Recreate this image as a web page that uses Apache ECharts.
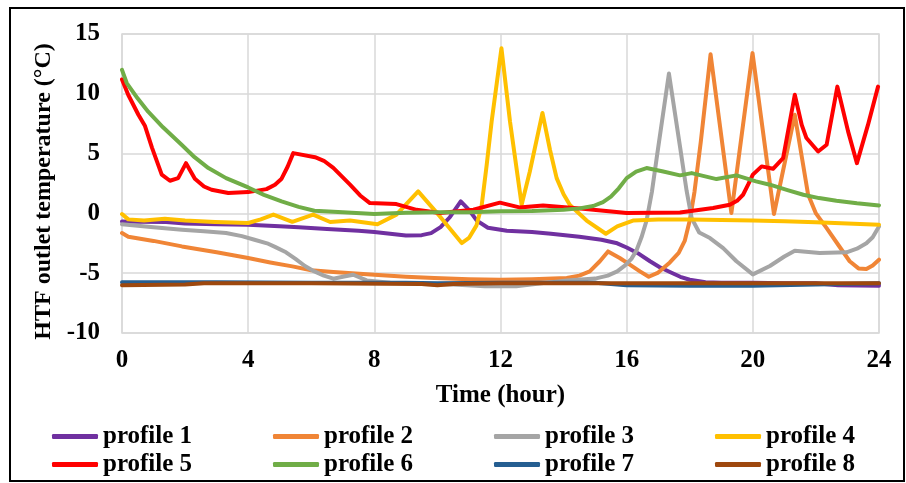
<!DOCTYPE html>
<html>
<head>
<meta charset="utf-8">
<script src="https://cdn.jsdelivr.net/npm/echarts@6/dist/echarts.min.js"></script>
<style>
  html, body { margin: 0; padding: 0; background: #fff; }
  #chart { width: 906px; height: 483px; }
</style>
</head>
<body>
<div id="chart"></div>
<script>
// Hourly HTF outlet temperature for eight load profiles: [hour, °C]
const profileNames = ['profile 1', 'profile 2', 'profile 3', 'profile 4',
                      'profile 5', 'profile 6', 'profile 7', 'profile 8'];
const profileColors = ['#7030A0', '#F08536', '#A5A5A5', '#FFC000',
                       '#FF0000', '#70AD47', '#255E91', '#9E480E'];

const xTicks = { min: 0, max: 24, step: 4 };
const yTicks = { min: -10, max: 15, step: 5 };

const profile1 = [[0,-0.67],[0.5,-0.7],[1.4,-0.72],[2,-0.85],[3,-0.9],[4,-0.95],[5,-1.08],[5.6,-1.15],
  [6.5,-1.3],[7.5,-1.45],[8,-1.55],[8.5,-1.7],[9,-1.85],[9.5,-1.82],[9.8,-1.65],[10.1,-1.15],[10.4,-0.3],
  [10.74,1.0],[11.0,0.3],[11.25,-0.6],[11.6,-1.2],[12.2,-1.45],[13,-1.55],[13.6,-1.7],[14.5,-1.95],
  [15.2,-2.2],[15.7,-2.5],[16,-2.85],[16.4,-3.4],[16.74,-4.0],[17.05,-4.5],[17.37,-4.9],[17.7,-5.3],
  [18,-5.55],[18.5,-5.75],[19,-5.8],[20,-5.8],[21,-5.85],[22,-5.85],[22.7,-6.0],[24,-6.05]];

const profile2 = [[0,-1.64],[0.2,-1.95],[1,-2.3],[1.9,-2.76],[3,-3.25],[4,-3.73],[4.7,-4.1],[5.4,-4.43],
  [6,-4.75],[6.7,-4.9],[8,-5.13],[9,-5.3],[9.9,-5.41],[11,-5.5],[12,-5.55],[13,-5.5],[14.1,-5.4],
  [14.5,-5.2],[14.83,-4.85],[15.15,-4.0],[15.41,-3.18],[15.78,-3.73],[16.1,-4.29],[16.42,-4.85],
  [16.7,-5.3],[17,-4.95],[17.37,-4.1],[17.65,-3.3],[17.84,-2.3],[18.0,-0.6],[18.15,1.8],[18.35,6.0],
  [18.66,13.3],[19.32,0.03],[19.99,13.4],[20.67,-0.05],[21.33,8.25],[21.75,1.6],[22.0,0.0],
  [22.34,-1.23],[22.7,-2.6],[23.07,-4.0],[23.35,-4.6],[23.6,-4.65],[23.8,-4.35],[24,-3.87]];

const profile3 = [[0,-0.9],[1,-1.15],[1.9,-1.36],[2.6,-1.5],[3.3,-1.64],[3.8,-1.9],[4.2,-2.2],[4.6,-2.5],
  [4.85,-2.8],[5.2,-3.25],[5.5,-3.8],[5.8,-4.4],[6.1,-4.85],[6.4,-5.2],[6.7,-5.46],[7.0,-5.3],
  [7.33,-5.13],[7.76,-5.6],[8.5,-5.8],[9.5,-5.9],[10.5,-5.95],[11.5,-6.1],[12.5,-6.1],[13.3,-5.85],
  [14.1,-5.6],[15.0,-5.45],[15.4,-5.2],[15.7,-4.85],[15.95,-4.35],[16.15,-3.8],[16.31,-3.1],
  [16.47,-2.0],[16.63,-0.6],[16.8,1.8],[16.95,4.6],[17.34,11.7],[17.69,5.6],[17.9,1.9],[18.06,-0.4],
  [18.3,-1.6],[18.64,-2.06],[19.06,-2.9],[19.48,-4.0],[20,-5.1],[20.54,-4.4],[21,-3.6],[21.33,-3.12],
  [22.12,-3.32],[22.97,-3.25],[23.3,-2.95],[23.6,-2.5],[23.8,-2.0],[24,-1.1]];

const profile4 = [[0,-0.05],[0.2,-0.5],[0.7,-0.6],[1.36,-0.45],[2,-0.6],[2.95,-0.72],[4,-0.8],[4.4,-0.5],
  [4.8,-0.1],[5.4,-0.7],[6.06,-0.1],[6.6,-0.72],[7.23,-0.6],[8.1,-0.9],[8.7,-0.1],[9.39,1.84],
  [10.08,-0.25],[10.77,-2.48],[11.0,-2.05],[11.24,-1.0],[11.4,0.6],[11.56,4.0],[11.72,7.7],[12.03,13.8],
  [12.3,7.7],[12.67,0.72],[12.93,3.5],[13.33,8.4],[13.57,5.3],[13.78,2.95],[14.0,1.6],[14.2,0.7],
  [14.73,-0.6],[15.34,-1.7],[15.7,-1.09],[16.2,-0.6],[17,-0.5],[18,-0.5],[19,-0.55],[20,-0.6],
  [21,-0.65],[22,-0.75],[23,-0.85],[24,-0.95]];

const profile5 = [[0,11.2],[0.2,9.9],[0.52,8.25],[0.73,7.3],[0.95,5.5],[1.26,3.24],[1.52,2.73],[1.78,2.95],
  [2.03,4.2],[2.31,2.9],[2.6,2.25],[2.84,1.98],[3.37,1.7],[4,1.78],[4.58,2.03],[4.85,2.4],[5.06,2.9],
  [5.25,3.9],[5.43,5.04],[6.12,4.7],[6.4,4.4],[6.7,3.8],[7.23,2.4],[7.55,1.5],[7.86,0.86],[8.7,0.78],
  [9.34,0.3],[10.08,0.03],[11.14,0.31],[11.98,0.9],[12.6,0.5],[13.35,0.67],[14.62,0.39],[16,0.03],
  [17.69,0.08],[18.74,0.45],[19.27,0.73],[19.5,1.05],[19.69,1.56],[19.85,2.4],[20,3.24],[20.28,3.93],
  [20.64,3.73],[20.96,4.63],[21.33,9.92],[21.55,7.4],[21.7,6.3],[22.07,5.18],[22.34,5.74],[22.68,10.6],
  [23.02,6.86],[23.3,4.2],[23.65,7.4],[23.97,10.6]];

const profile6 = [[0,12],[0.15,10.9],[0.5,9.6],[0.83,8.5],[1.3,7.2],[1.89,5.74],[2.3,4.7],[2.74,3.79],
  [3.3,2.95],[4,2.17],[4.5,1.55],[5.06,1.0],[5.6,0.55],[6.1,0.22],[7,0.1],[8,-0.05],[9,0.05],[10,0.1],
  [11,0.1],[12,0.17],[13,0.2],[14,0.3],[14.5,0.42],[14.94,0.62],[15.25,0.95],[15.5,1.4],[15.75,2.1],
  [16,2.95],[16.3,3.5],[16.63,3.79],[17.16,3.5],[17.69,3.18],[18.06,3.37],[18.85,2.87],[19.48,3.18],
  [20.1,2.68],[20.54,2.4],[21.1,1.95],[21.6,1.56],[22.1,1.28],[22.65,1.06],[23.3,0.85],[24,0.67]];

const profile7 = [[0,-5.75],[3,-5.75],[6,-5.8],[9,-5.8],[10,-5.85],[12,-5.8],[15,-5.8],[16,-6.0],
  [18,-6.05],[20,-6.05],[22,-5.95],[24,-5.85]];

const profile8 = [[0,-6.0],[2,-5.95],[2.6,-5.85],[6,-5.85],[9.5,-5.9],[10,-6.0],[10.5,-5.9],[12,-5.85],
  [18,-5.85],[24,-5.85]];

const profiles = [profile1, profile2, profile3, profile4, profile5, profile6, profile7, profile8];

const FONT = "'Liberation Serif', 'Times New Roman', serif";
const GRID_GREY = '#d9d9d9';
const LABEL_SIZE = 25;

// One legend block per entry so the two rows of four line up in fixed columns
const legendCols = [52, 273, 494, 715];
const legendRows = [424, 452];
const legends = profileNames.map((name, i) => ({
  data: [name],
  left: legendCols[i % 4],
  top: legendRows[Math.floor(i / 4)],
  icon: 'roundRect',
  itemWidth: 46,
  itemHeight: 5,
  padding: 0,
  selectedMode: false,
  textStyle: { fontFamily: FONT, fontWeight: 'bold', fontSize: LABEL_SIZE, color: '#000' }
}));

const chart = echarts.init(document.getElementById('chart'), null, { renderer: 'canvas' });
chart.setOption({
  animation: false,
  backgroundColor: '#fff',
  grid: {
    left: 122, right: 27, top: 34, bottom: 150,
    show: true, borderColor: GRID_GREY, borderWidth: 1.5, backgroundColor: 'transparent'
  },
  legend: legends,
  xAxis: {
    type: 'value',
    min: xTicks.min, max: xTicks.max, interval: xTicks.step,
    name: 'Time (hour)',
    nameLocation: 'middle',
    nameGap: 50,
    nameTextStyle: { fontFamily: FONT, fontWeight: 'bold', fontSize: LABEL_SIZE, color: '#000' },
    axisLine: { show: false },
    axisTick: { show: false },
    axisLabel: { fontFamily: FONT, fontWeight: 'bold', fontSize: LABEL_SIZE, color: '#000', margin: 15 },
    splitLine: { show: true, lineStyle: { color: GRID_GREY, width: 1.5 } }
  },
  yAxis: {
    type: 'value',
    min: yTicks.min, max: yTicks.max, interval: yTicks.step,
    name: 'HTF outlet temperature (°C)',
    nameLocation: 'middle',
    nameGap: 66,
    nameTextStyle: { fontFamily: FONT, fontWeight: 'bold', fontSize: 24, color: '#000', padding: [0, 16, 0, 0] },
    axisLine: { show: false },
    axisTick: { show: false },
    axisLabel: { fontFamily: FONT, fontWeight: 'bold', fontSize: LABEL_SIZE, color: '#000', margin: 22 },
    splitLine: { show: true, lineStyle: { color: GRID_GREY, width: 1.5 } }
  },
  series: profiles.map((data, i) => ({
    name: profileNames[i],
    type: 'line',
    data: data,
    showSymbol: false,
    symbol: 'none',
    smooth: false,
    lineStyle: { color: profileColors[i], width: 4, join: 'round', cap: 'round' },
    itemStyle: { color: profileColors[i] }
  })),
  graphic: [{
    type: 'rect',
    shape: { x: 10, y: 8, width: 894, height: 473 },
    style: { fill: 'none', stroke: '#000', lineWidth: 2 },
    silent: true
  }]
});
</script>
</body>
</html>
